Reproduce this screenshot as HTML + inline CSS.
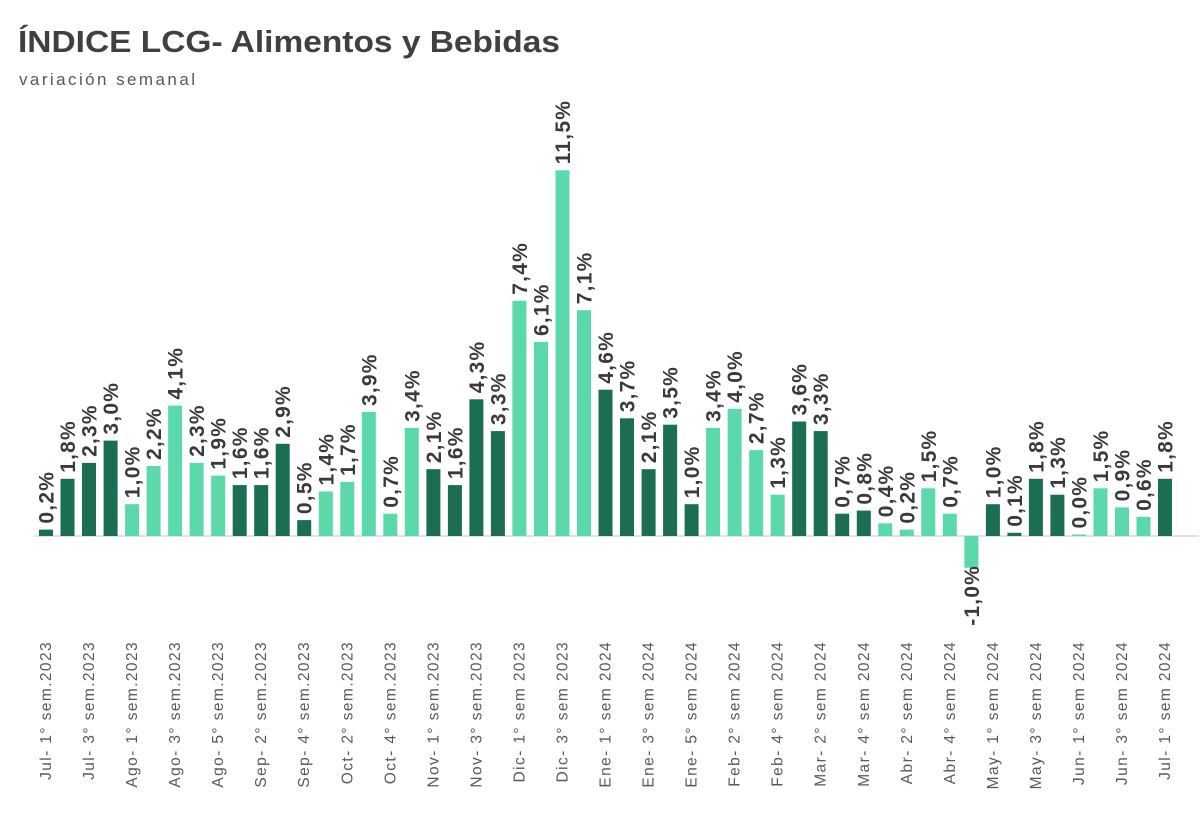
<!DOCTYPE html>
<html><head><meta charset="utf-8"><style>
html,body{margin:0;padding:0;background:#fff;}
svg{display:block;font-family:"Liberation Sans",sans-serif;}
</style></head><body>
<svg id="c" width="1200" height="825" viewBox="0 0 1200 825" xmlns="http://www.w3.org/2000/svg">
<text x="18" y="52" font-size="31" font-weight="bold" fill="#404040" textLength="542" lengthAdjust="spacingAndGlyphs">ÍNDICE LCG- Alimentos y Bebidas</text>
<text x="19" y="85" font-size="17" fill="#595959" textLength="176">variación semanal</text>
<line x1="34" y1="536" x2="1198" y2="536" stroke="#d9d9d9" stroke-width="1.5"/>
<g id="g"></g>
</svg>
<script>
var vals=[0.2,1.8,2.3,3.0,1.0,2.2,4.1,2.3,1.9,1.6,1.6,2.9,0.5,1.4,1.7,3.9,0.7,3.4,2.1,1.6,4.3,3.3,7.4,6.1,11.5,7.1,4.6,3.7,2.1,3.5,1.0,3.4,4.0,2.7,1.3,3.6,3.3,0.7,0.8,0.4,0.2,1.5,0.7,-1.0,1.0,0.1,1.8,1.3,0.0,1.5,0.9,0.6,1.8];
var dark=[0,1,2,3,9,10,11,12,18,19,20,21,26,27,28,29,30,35,36,37,38,44,45,46,47,52];
var labs=["Jul- 1° sem.2023","Jul- 3° sem.2023","Ago- 1° sem.2023","Ago- 3° sem.2023","Ago- 5° sem.2023","Sep- 2° sem.2023","Sep- 4° sem.2023","Oct- 2° sem.2023","Oct- 4° sem.2023","Nov- 1° sem.2023","Nov- 3° sem.2023","Dic- 1° sem 2023","Dic- 3° sem 2023","Ene- 1° sem 2024","Ene- 3° sem 2024","Ene- 5° sem 2024","Feb- 2° sem 2024","Feb- 4° sem 2024","Mar- 2° sem 2024","Mar- 4° sem 2024","Abr- 2° sem 2024","Abr- 4° sem 2024","May- 1° sem 2024","May- 3° sem 2024","Jun- 1° sem 2024","Jun- 3° sem 2024","Jul- 1° sem 2024"];
var s="",z=536,k=31.8,w=14;
vals.forEach(function(v,i){
 var cx=46+i*21.52,h=Math.abs(v)*k,y=v>=0?z-h:z;
 var col=dark.indexOf(i)>=0?"#1b6e50":"#5cd9ab";
 if(v===0){h=1.5;y=z-1.5;}
 s+='<rect x="'+(cx-w/2).toFixed(1)+'" y="'+y.toFixed(1)+'" width="'+w+'" height="'+h.toFixed(1)+'" fill="'+col+'"/>';
 var t=(v<0?"-":"")+Math.abs(v).toFixed(1).replace(".",",")+"%";
 var ly=v>=0?y-6:z+h+58;
 s+='<text transform="translate('+(cx+7.5).toFixed(1)+','+ly.toFixed(1)+') rotate(-90)" font-size="21" font-weight="bold" letter-spacing="1.2" fill="#3a3a3a">'+t+'</text>';
 if(i%2===0){s+='<text transform="translate('+(cx+5).toFixed(1)+',641) rotate(-90)" text-anchor="end" font-size="15.5" letter-spacing="1.4" fill="#595959">'+labs[i/2]+'</text>';}
});
document.getElementById("g").innerHTML=s;
</script>
</body></html>
